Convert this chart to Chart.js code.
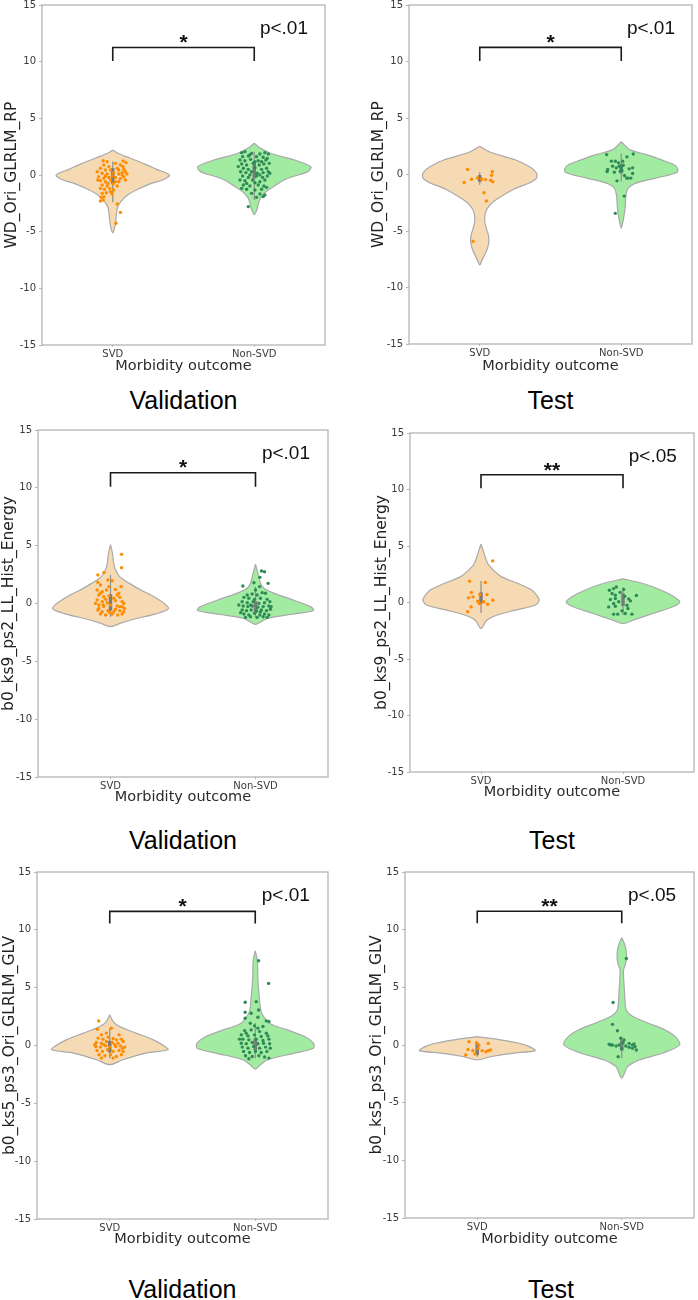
<!DOCTYPE html>
<html>
<head>
<meta charset="utf-8">
<script src="https://cdn.jsdelivr.net/npm/chart.js@4.4.1/dist/chart.umd.min.js"></script>
<style>
    body { margin: 0; background: #fff; width: 698px; height: 1300px; position: relative; overflow: hidden; }
    canvas { position: absolute; }
    .cap { position: absolute; font-family: "Liberation Sans", Arial, sans-serif; font-size: 25px; color: #000;
           transform: translate(-50%, -50%); white-space: nowrap; }
</style>
</head>
<body>
<script>
'use strict';

var categories = ['SVD', 'Non-SVD'];
var yTicks = [-15, -10, -5, 0, 5, 10, 15];
var xLabel = 'Morbidity outcome';
var yLabels = ['WD_Ori_GLRLM_RP', 'b0_ks9_ps2_LL_Hist_Energy', 'b0_ks5_ps3_Ori_GLRLM_GLV'];
var setNames = ['Validation', 'Test'];
var pLabels = [['p<.01', 'p<.01'], ['p<.01', 'p<.05'], ['p<.01', 'p<.05']];
var starLabels = [['*', '*'], ['*', '**'], ['*', '**']];

// violin outlines: value levels (top to bottom) and half widths (in category units)
var rpValSvdLevels = [2.2, 1.9, 1.5, 1.0, 0.5, 0.0, -0.4, -0.8, -1.3, -1.8, -2.3, -2.8, -3.5, -4.2, -4.8, -5.1];
var rpValSvdWidths = [0, 0.04, 0.12, 0.22, 0.31, 0.40, 0.36, 0.26, 0.17, 0.10, 0.06, 0.035, 0.025, 0.02, 0.01, 0];
var rpValNonLevels = [2.8, 2.4, 1.9, 1.3, 0.73, 0.3, -0.15, -0.5, -1.0, -1.5, -2.0, -2.5, -3.0, -3.5];
var rpValNonWidths = [0, 0.04, 0.12, 0.29, 0.40, 0.38, 0.27, 0.20, 0.14, 0.08, 0.045, 0.03, 0.02, 0];
var rpTestSvdLevels = [2.5, 2.2, 1.9, 1.3, 0.7, 0.15, -0.35, -0.75, -1.3, -2.2, -2.8, -3.4, -4.1, -4.7, -5.3, -5.9, -6.5, -7.1, -7.6, -8.0];
var rpTestSvdWidths = [0, 0.04, 0.09, 0.25, 0.35, 0.40, 0.40, 0.35, 0.24, 0.12, 0.065, 0.04, 0.035, 0.045, 0.06, 0.065, 0.055, 0.035, 0.015, 0];
var rpTestNonLevels = [2.9, 2.2, 1.76, 1.32, 0.88, 0.5, 0.15, -0.3, -0.74, -1.18, -1.9, -3.1, -4.3, -4.75];
var rpTestNonWidths = [0, 0.06, 0.18, 0.28, 0.37, 0.40, 0.39, 0.25, 0.11, 0.05, 0.033, 0.026, 0.01, 0];

var enValSvdLevels = [5.1, 4.3, 3.5, 2.9, 2.3, 1.74, 1.17, 0.59, 0.0, -0.44, -0.87, -1.3, -1.7, -2.0];
var enValSvdWidths = [0, 0.014, 0.022, 0.035, 0.065, 0.13, 0.21, 0.30, 0.37, 0.40, 0.32, 0.18, 0.07, 0];
var enValNonLevels = [3.4, 2.6, 1.75, 1.3, 0.88, 0.3, -0.27, -0.6, -0.95, -1.3, -1.8];
var enValNonWidths = [0, 0.017, 0.035, 0.06, 0.13, 0.26, 0.38, 0.40, 0.24, 0.08, 0];
var enTestSvdLevels = [5.16, 4.3, 3.45, 2.86, 2.27, 1.68, 1.09, 0.5, 0.2, -0.24, -0.68, -1.13, -1.57, -2.3];
var enTestSvdWidths = [0, 0.023, 0.047, 0.087, 0.146, 0.26, 0.36, 0.40, 0.41, 0.38, 0.24, 0.11, 0.04, 0];
var enTestNonLevels = [2.09, 1.68, 1.09, 0.5, 0.03, -0.38, -0.97, -1.57, -1.86];
var enTestNonWidths = [0, 0.14, 0.27, 0.36, 0.40, 0.35, 0.21, 0.07, 0];

var glvValSvdLevels = [2.65, 2.07, 1.64, 1.07, 0.49, -0.09, -0.37, -0.66, -1.23, -1.66];
var glvValSvdWidths = [0, 0.023, 0.069, 0.18, 0.30, 0.38, 0.40, 0.25, 0.09, 0];
var glvValNonLevels = [8.19, 7.39, 6.24, 5.09, 4.2, 3.36, 2.79, 1.93, 1.35, 0.78, 0.2, -0.23, -0.66, -1.23, -1.66, -2.04];
var glvValNonWidths = [0, 0.014, 0.017, 0.021, 0.028, 0.034, 0.044, 0.097, 0.22, 0.34, 0.40, 0.40, 0.27, 0.085, 0.035, 0];
var glvTestSvdLevels = [0.72, 0.43, 0.15, -0.14, -0.49, -0.72, -1.0, -1.3];
var glvTestSvdWidths = [0, 0.17, 0.29, 0.36, 0.40, 0.24, 0.10, 0];
var glvTestNonLevels = [9.3, 8.8, 8.2, 7.6, 7.0, 6.5, 5.6, 4.8, 3.9, 3.0, 2.5, 1.87, 1.3, 0.72, 0.0, -0.72, -1.3, -1.87, -2.4, -2.87];
var glvTestNonWidths = [0, 0.018, 0.03, 0.032, 0.025, 0.012, 0.014, 0.018, 0.022, 0.032, 0.074, 0.19, 0.30, 0.37, 0.40, 0.28, 0.12, 0.04, 0.02, 0];

// inner box: [whisker low, q1, median, q3, whisker high]
var rpValSvdBox = [-2.4, -0.8, -0.1, 0.6, 1.2];
var rpValNonBox = [-2.2, -0.3, 0.5, 1.2, 2.05];
var rpTestSvdBox = [-0.9, -0.65, -0.45, -0.05, 0.2];
var rpTestNonBox = [-0.65, 0.1, 0.5, 0.9, 1.85];
var enValSvdBox = [-1.15, -0.6, 0.1, 0.8, 2.45];
var enValNonBox = [-1.2, -0.8, -0.3, 0.2, 1.45];
var enTestSvdBox = [-0.92, -0.1, 0.3, 0.9, 1.9];
var enTestNonBox = [-1.1, -0.3, 0.2, 0.8, 1.35];
var glvValSvdBox = [-1.1, -0.6, -0.1, 0.4, 1.5];
var glvValNonBox = [-1.1, -0.4, 0.1, 0.6, 1.95];
var glvTestSvdBox = [-1.0, -0.87, -0.3, 0.14, 0.3];
var glvTestNonBox = [-1.15, -0.5, 0.0, 0.4, 0.72];

// strip points: [jitter, value]
var rpValSvdPoints = [[-0.068,1.26],[-0.04,1.18],[0.073,1.24],[0.094,1.09],[-0.063,0.88],[0.019,1.03],[0.054,0.88],[-0.087,0.59],[-0.052,0.44],[-0.016,0.44],[0.031,0.59],[0.077,0.5],[-0.075,0.15],[-0.04,0.09],[0.007,0.21],[0.042,0.09],[0.066,0.21],[0.089,0.29],[-0.099,-0.15],[-0.063,-0.29],[-0.028,-0.21],[0.019,-0.21],[0.054,-0.32],[0.077,-0.15],[-0.087,-0.5],[-0.052,-0.59],[-0.016,-0.44],[0.042,-0.59],[-0.075,-0.88],[-0.04,-0.97],[0.002,-0.79],[0.031,-0.97],[-0.087,-1.18],[-0.059,-1.26],[-0.021,-1.18],[0.007,-1.32],[-0.075,-1.62],[-0.045,-1.56],[-0.005,-1.68],[-0.082,-1.97],[-0.063,-1.91],[-0.087,-2.29],[-0.068,-2.2],[0.031,-2.56],[0.054,-3.3],[0.023,-4.26],[-0.028,0.74],[0.066,0],[0.1,0.09],[-0.11,0.29],[-0.005,-0.09],[0.042,0.44],[0.089,-0.44],[-0.033,-0.74],[0.073,0.74],[-0.106,-0.44],[0.019,-0.59],[-0.016,-1.47],[-0.052,-0.09]];
var rpValNonPoints = [[-0.089,1.97],[-0.066,2.06],[-0.019,1.91],[0.04,1.85],[0.075,1.97],[0.099,1.85],[-0.082,1.62],[-0.042,1.68],[0.016,1.62],[0.063,1.56],[0.092,1.47],[-0.101,1.32],[-0.066,1.26],[-0.026,1.38],[0.028,1.26],[0.052,1.18],[0.082,1.32],[-0.089,0.97],[-0.054,0.88],[-0.007,1.03],[0.035,0.88],[0.068,0.97],[0.106,1.03],[-0.077,0.59],[-0.042,0.5],[0.005,0.65],[0.052,0.5],[0.087,0.59],[-0.096,0.29],[-0.059,0.21],[-0.019,0.29],[0.021,0.15],[0.063,0.21],[0.099,0.29],[-0.082,-0.09],[-0.042,-0.21],[0.016,-0.09],[0.059,-0.21],[0.092,-0.09],[-0.101,-0.44],[-0.066,-0.5],[-0.012,-0.44],[0.04,-0.59],[0.075,-0.44],[-0.077,-0.88],[-0.031,-0.97],[0.028,-0.88],[0.068,-0.97],[-0.054,-1.26],[0.005,-1.32],[0.052,-1.26],[-0.019,-1.62],[0.04,-1.68],[0.075,-1.76],[0.016,-1.97],[0.063,-1.91],[-0.042,-2.79],[-0.031,1.76],[0.005,1.18],[-0.113,0.74],[-0.031,0],[0.04,0],[0.11,0.15],[-0.054,-0.74],[0.005,-0.68],[0.087,-1.09],[-0.089,-1.18]];
var rpTestSvdPoints = [[-0.086,0.45],[-0.11,-0.71],[-0.058,-0.42],[-0.016,-0.3],[0.014,-0.42],[0.042,-0.45],[0.077,-0.51],[0.093,-0.65],[0.089,0.24],[0.084,-0.06],[0.03,-1.61],[0.047,-2.35],[-0.047,-5.92]];
var rpTestNonPoints = [[-0.103,1.76],[0.085,1.82],[-0.07,1.18],[-0.042,1.18],[0.04,1.56],[-0.014,0.74],[0.014,0.82],[0,0.59],[-0.096,0.44],[-0.1,0.26],[-0.049,0.21],[-0.035,0.59],[-0.007,0.29],[0.005,0.35],[0.056,0.5],[0.08,0.59],[0.023,-0.09],[0.038,-0.32],[0.049,-0.32],[0.068,-0.32],[0.08,0.09],[-0.03,-0.56],[0.021,-1.91],[-0.042,-3.44],[-0.061,0.74],[-0.019,1.03],[0.01,1.18]];
var enValSvdPoints = [[0.076,4.25],[0.076,3.1],[-0.087,2.46],[-0.046,2.67],[-0.018,2.03],[0.011,1.97],[-0.069,1.6],[-0.092,1.17],[-0.057,1.02],[-0.028,1.17],[0.034,1.22],[0.057,0.88],[0.073,1.46],[-0.08,0.73],[-0.046,0.59],[-0.011,0.65],[0.023,0.45],[0.064,0.53],[-0.092,0.3],[-0.057,0.16],[-0.023,0.07],[0.034,0.24],[0.08,0.16],[-0.08,-0.13],[-0.046,-0.27],[0,-0.13],[0.046,-0.22],[0.08,-0.27],[-0.087,-0.56],[-0.057,-0.71],[-0.018,-0.62],[0.023,-0.71],[0.064,-0.62],[0.092,-0.71],[-0.069,-0.91],[-0.034,-0.99],[0.011,-0.91],[0.05,-0.99],[0.08,-0.91],[-0.08,-0.42],[-0.103,0.01],[0.092,0.01],[-0.069,0.88],[0.046,0.73],[-0.011,1.46],[-0.087,1.83],[-0.034,0.36],[0.064,-0.27],[0.034,-0.5],[-0.005,-0.79],[-0.05,-0.13],[0.096,-0.42]];
var enValNonPoints = [[0.046,0.94],[0.069,0.88],[-0.023,0.82],[0.011,0.73],[-0.08,0.53],[-0.046,0.45],[-0.007,0.36],[0.034,0.45],[0.08,0.36],[-0.092,0.16],[-0.057,0.07],[-0.016,0.16],[0.023,0.01],[0.062,0.07],[0.099,0.16],[-0.085,-0.22],[-0.053,-0.27],[-0.023,-0.22],[0.016,-0.33],[0.053,-0.27],[0.092,-0.22],[-0.092,-0.56],[-0.062,-0.62],[-0.03,-0.56],[0.007,-0.65],[0.041,-0.56],[0.076,-0.62],[0.103,-0.5],[-0.08,-0.91],[-0.046,-0.99],[-0.007,-0.85],[0.03,-0.99],[0.062,-0.91],[0.092,-0.99],[-0.069,-1.2],[-0.034,-1.14],[0.011,-1.2],[0.053,-1.14],[0.08,-1.2],[-0.103,-0.79],[-0.115,-0.13],[0.108,-0.27],[-0.057,0.73],[0,1.17],[0.028,1.46],[-0.011,1.8],[0.041,2.81],[0.062,2.75],[0.087,1.74],[-0.087,1.51],[0.03,2.26],[-0.034,-0.13],[0.034,-0.71]];
var enTestSvdPoints = [[0.082,3.68],[-0.08,1.89],[0.03,1.77],[-0.068,0.88],[-0.056,0.5],[-0.087,0.41],[-0.009,0.7],[0.042,0.7],[0.084,0.2],[-0.012,-0.09],[0.047,-0.15],[-0.07,-0.39],[-0.094,-0.82],[-0.023,0.12],[0.019,0.06]];
var enTestNonPoints = [[-0.096,1.09],[-0.066,1.23],[-0.047,1.38],[-0.077,0.79],[-0.054,0.65],[-0.089,0.26],[-0.054,0.35],[-0.066,-0.09],[-0.101,-0.39],[-0.054,-0.33],[-0.066,-1.03],[-0.037,-1.03],[0.063,-1.03],[0.04,0.32],[0.052,0.14],[0.028,-0.24],[0.035,-0.53],[0.094,0.62],[0.005,1.15],[-0.007,-0.74],[0.016,-0.97],[-0.03,0.06],[0.012,0.55],[-0.02,0.9]];
var glvValSvdPoints = [[-0.08,0.64],[-0.046,0.55],[-0.011,0.72],[0.023,0.6],[0.046,0.49],[0.08,0.55],[-0.092,0.26],[-0.057,0.2],[-0.023,0.35],[0.018,0.26],[0.057,0.2],[0.092,0.35],[-0.096,-0.09],[-0.064,-0.14],[-0.028,-0.03],[0,-0.14],[0.041,-0.09],[0.073,-0.03],[0.103,-0.14],[-0.087,-0.43],[-0.05,-0.51],[-0.016,-0.37],[0.023,-0.51],[0.064,-0.43],[0.092,-0.51],[-0.073,-0.8],[-0.034,-0.89],[0.005,-0.8],[0.046,-0.95],[0.08,-0.8],[-0.057,-1.09],[0.023,-1.09],[-0.076,2.12],[-0.085,1.41],[0.011,1.49],[-0.057,0.92],[0.064,0.92],[-0.023,1.07],[-0.103,0.06],[-0.041,0.06],[0.034,0.06],[0.087,-0.23]];
var glvValNonPoints = [[0.023,7.33],[0.092,5.37],[-0.069,3.74],[0.007,3.79],[-0.069,2.87],[-0.069,2.36],[-0.028,2.79],[0.018,2.44],[0.076,2.13],[0.094,2.07],[0.023,3.07],[-0.073,1.29],[-0.028,1.35],[0.03,1.2],[0.076,1.06],[-0.096,0.92],[-0.05,0.83],[-0.005,0.92],[0.041,0.78],[0.087,0.83],[-0.085,0.55],[-0.044,0.49],[0.007,0.55],[0.053,0.43],[0.094,0.55],[-0.096,0.2],[-0.062,0.15],[-0.021,0.26],[0.018,0.15],[0.057,0.2],[0.099,0.15],[-0.089,-0.14],[-0.05,-0.23],[-0.011,-0.09],[0.03,-0.23],[0.071,-0.14],[0.103,-0.23],[-0.08,-0.51],[-0.039,-0.6],[0.002,-0.51],[0.041,-0.6],[0.08,-0.51],[-0.067,-0.89],[-0.021,-0.95],[0.025,-0.89],[0.064,-1.0],[-0.044,-1.15],[0.094,-1.09],[-0.108,0.55],[0.018,1.5],[-0.005,1.7],[0.053,1.64],[-0.062,1.06],[-0.034,1.92]];
var glvTestSvdPoints = [[-0.057,0.29],[0.076,0.14],[-0.064,-0.38],[-0.03,-0.49],[0.011,0],[0.034,-0.49],[0.06,-0.58],[0.092,-0.43],[-0.08,-0.87],[-0.016,-0.78],[0.007,-0.29],[0.076,-0.49],[-0.005,0.2]];
var glvTestNonPoints = [[0.032,7.5],[-0.06,3.69],[-0.064,1.79],[-0.03,1.24],[-0.007,0.58],[0.016,0.43],[-0.087,0.06],[-0.064,0],[-0.018,0],[0.009,0.2],[0.028,-0.09],[0.051,0.14],[0.074,0],[0.092,-0.14],[0.101,-0.43],[0,-0.29],[-0.025,-1.01],[0.074,-0.29],[0.051,-0.2],[-0.076,0],[-0.039,-0.09],[0.085,0.09]];

// significance brackets: [leg bottom, bar], star centre
var bracketRows = [[10.05, 11.25, 12.2], [10.1, 11.3, 12.2], [10.55, 11.6, 12.5]];

var violinFills = ['#f6dab3', '#a2eca2'];
var dotColors = ['#ff8c00', '#2e8b57'];

// panel frames in page pixels: plot area L,R,T,B, y title centre x, x title centre y
var panels = [
    { row: 0, col: 0, L: 42,  R: 325, T: 5,   B: 345,  yTitleX: 12,  xTitleY: 366,
      groups: [[rpValSvdLevels, rpValSvdWidths, rpValSvdBox, rpValSvdPoints], [rpValNonLevels, rpValNonWidths, rpValNonBox, rpValNonPoints]] },
    { row: 0, col: 1, L: 409, R: 692, T: 5,   B: 344,  yTitleX: 379, xTitleY: 366,
      groups: [[rpTestSvdLevels, rpTestSvdWidths, rpTestSvdBox, rpTestSvdPoints], [rpTestNonLevels, rpTestNonWidths, rpTestNonBox, rpTestNonPoints]] },
    { row: 1, col: 0, L: 38,  R: 328, T: 430, B: 777,  yTitleX: 9,   xTitleY: 797.7,
      groups: [[enValSvdLevels, enValSvdWidths, enValSvdBox, enValSvdPoints], [enValNonLevels, enValNonWidths, enValNonBox, enValNonPoints]] },
    { row: 1, col: 1, L: 410, R: 694, T: 433, B: 772,  yTitleX: 382, xTitleY: 792.7,
      groups: [[enTestSvdLevels, enTestSvdWidths, enTestSvdBox, enTestSvdPoints], [enTestNonLevels, enTestNonWidths, enTestNonBox, enTestNonPoints]] },
    { row: 2, col: 0, L: 37,  R: 328, T: 872, B: 1219, yTitleX: 10,  xTitleY: 1239.3,
      groups: [[glvValSvdLevels, glvValSvdWidths, glvValSvdBox, glvValSvdPoints], [glvValNonLevels, glvValNonWidths, glvValNonBox, glvValNonPoints]] },
    { row: 2, col: 1, L: 405, R: 697, T: 872, B: 1218, yTitleX: 377, xTitleY: 1239.3,
      groups: [[glvTestSvdLevels, glvTestSvdWidths, glvTestSvdBox, glvTestSvdPoints], [glvTestNonLevels, glvTestNonWidths, glvTestNonBox, glvTestNonPoints]] }
];
var captionY = [400, 840, 1289];

var Y_TITLE_SIZE = 15.5;
var X_TITLE_SIZE = 14.5;

function outline(center, levels, widths) {
    var pts = levels.map(function (y, k) { return { x: center - widths[k], y: y }; });
    for (var k = levels.length - 2; k >= 0; k--) {
        pts.push({ x: center + widths[k], y: levels[k] });
    }
    return pts;
}

var framePlugin = {
    id: 'frame',
    beforeDatasetsDraw: function (chart) {
        var a = chart.chartArea, ctx = chart.ctx;
        ctx.save();
        ctx.strokeStyle = '#b4b4b4';
        ctx.lineWidth = 1.3;
        ctx.strokeRect(a.left, a.top, a.right - a.left, a.bottom - a.top);
        ctx.restore();
    }
};

var notePlugin = {
    id: 'notes',
    afterDatasetsDraw: function (chart, args, opts) {
        var ctx = chart.ctx, xs = chart.scales.x, ys = chart.scales.y;
        ctx.save();
        ctx.fillStyle = '#111';
        ctx.textAlign = 'center';
        ctx.textBaseline = 'alphabetic';
        ctx.font = 'bold 21px "Liberation Sans", Arial, sans-serif';
        ctx.fillText(opts.star, xs.getPixelForValue(0.5), ys.getPixelForValue(opts.starY) + 0.57 * 21);
        ctx.font = '19px "Liberation Sans", Arial, sans-serif';
        ctx.fillText(opts.p, xs.getPixelForValue(1.21), ys.getPixelForValue(12.45));
        ctx.restore();
    }
};

panels.forEach(function (p) {
    var colLeft = p.col * 349;
    var top = p.T - 10;
    var height = Math.round(p.xTitleY + X_TITLE_SIZE * 0.6 - top);
    var padL = p.yTitleX - Y_TITLE_SIZE * 0.6 - colLeft;
    var yW = p.L - colLeft - padL;
    var xH = height - (p.B - top);
    var padR = colLeft + 349 - p.R;

    var cv = document.createElement('canvas');
    cv.width = 349;
    cv.height = height;
    cv.style.left = colLeft + 'px';
    cv.style.top = top + 'px';
    cv.style.width = '349px';
    cv.style.height = height + 'px';
    document.body.appendChild(cv);

    var datasets = [];
    p.groups.forEach(function (g, i) {
        datasets.push({
            data: g[3].map(function (d) { return { x: i + d[0], y: d[1] }; }),
            showLine: false, pointRadius: 1.7, pointBorderWidth: 0,
            pointBackgroundColor: dotColors[i], order: 1
        });
        datasets.push({
            data: [{ x: i, y: g[2][1] }, { x: i, y: g[2][3] }],
            borderColor: '#7b7b7b', borderWidth: 3.5, pointRadius: 0, order: 2
        });
        datasets.push({
            data: [{ x: i, y: g[2][0] }, { x: i, y: g[2][4] }],
            borderColor: '#8e8e8e', borderWidth: 1.2, pointRadius: 0, order: 2
        });
        datasets.push({
            data: outline(i, g[0], g[1]),
            borderColor: '#a9a9a9', borderWidth: 1.2, backgroundColor: violinFills[i],
            fill: 'shape', tension: 0.3, pointRadius: 0, order: 3
        });
    });
    var br = bracketRows[p.row];
    datasets.push({
        data: [{ x: 0, y: br[0] }, { x: 0, y: br[1] }, { x: 1, y: br[1] }, { x: 1, y: br[0] }],
        borderColor: '#1a1a1a', borderWidth: 1.6, pointRadius: 0, order: 0
    });

    new Chart(cv.getContext('2d'), {
        type: 'line',
        data: { datasets: datasets },
        options: {
            responsive: false,
            animation: false,
            events: [],
            layout: { padding: { left: padL, right: padR, top: 10, bottom: 0 } },
            plugins: {
                legend: { display: false },
                tooltip: { enabled: false },
                notes: { star: starLabels[p.row][p.col], starY: br[2], p: pLabels[p.row][p.col] }
            },
            scales: {
                x: {
                    type: 'linear', min: -0.5, max: 1.5,
                    afterBuildTicks: function (s) { s.ticks = [0, 1].map(function (v) { return { value: v }; }); },
                    afterFit: function (s) { s.height = xH; },
                    ticks: {
                        callback: function (v) { return categories[v]; },
                        font: { family: 'DejaVu Sans', size: 10 }, color: '#3a3a3a',
                        padding: 1, maxRotation: 0, autoSkip: false
                    },
                    grid: { drawOnChartArea: false, drawTicks: true, tickLength: 2, color: '#b4b4b4' },
                    border: { display: false },
                    title: {
                        display: true, text: xLabel, color: '#2b2b2b',
                        font: { family: 'DejaVu Sans', size: X_TITLE_SIZE }, padding: 0
                    }
                },
                y: {
                    min: -15, max: 15,
                    afterBuildTicks: function (s) { s.ticks = yTicks.map(function (v) { return { value: v }; }); },
                    afterFit: function (s) { s.width = yW; },
                    ticks: { font: { family: 'DejaVu Sans', size: 10 }, color: '#3a3a3a', padding: 3 },
                    grid: { drawOnChartArea: false, drawTicks: true, tickLength: 3, color: '#b4b4b4' },
                    border: { display: false },
                    title: {
                        display: true, text: yLabels[p.row], color: '#222',
                        font: { family: 'DejaVu Sans', size: Y_TITLE_SIZE }, padding: 0
                    }
                }
            }
        },
        plugins: [framePlugin, notePlugin]
    });

    var cap = document.createElement('div');
    cap.className = 'cap';
    cap.textContent = setNames[p.col];
    cap.style.left = ((p.L + p.R) / 2) + 'px';
    cap.style.top = captionY[p.row] + 'px';
    document.body.appendChild(cap);
});
</script>
</body>
</html>
